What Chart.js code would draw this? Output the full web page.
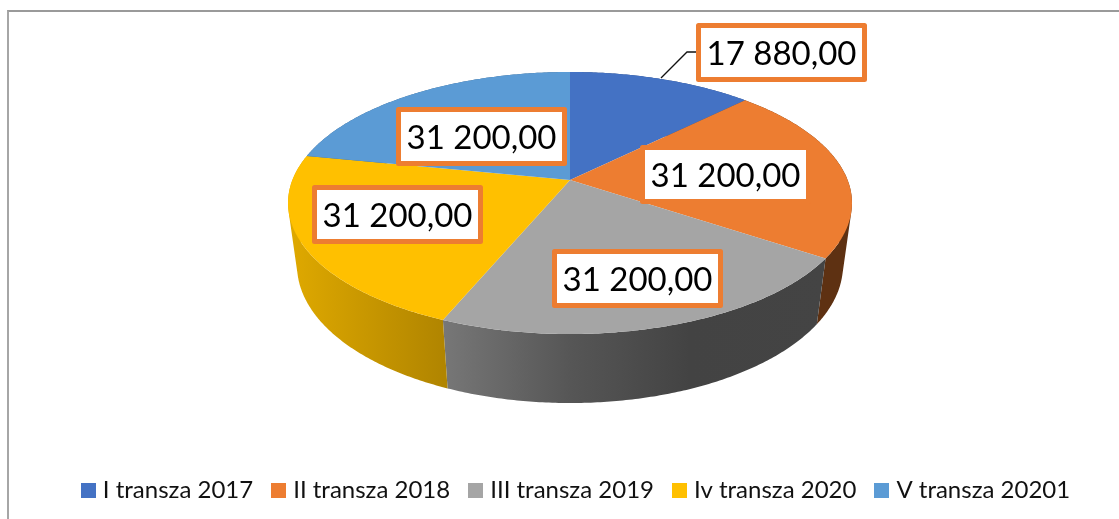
<!DOCTYPE html>
<html>
<head>
<meta charset="utf-8">
<title>Transze</title>
<style>
html,body{margin:0;padding:0;background:#fff;overflow:hidden}
#wrap{position:relative;width:1119px;height:519px}
#frame{position:absolute;left:7px;top:10px;right:0;bottom:0;border-top:2px solid #9a9a9a;border-left:2px solid #a6a6a6}
canvas{position:absolute;left:0;top:0}
</style>
</head>
<body>
<div id="wrap"><div id="frame"></div><canvas id="pie" width="1119" height="519"></canvas></div>
<script src="https://cdn.jsdelivr.net/npm/chart.js"></script>
<script>
/* ================= DATA ================= */
const categories=['I transza 2017','II transza 2018','III transza 2019','Iv transza 2020','V transza 20201'];
const values=[17880,31200,31200,31200,31200];
const valueLabels=['17 880,00','31 200,00','31 200,00','31 200,00','31 200,00'];

/* ================= STYLE ================= */
const colors=['#4472C4','#ED7D31','#A5A5A5','#FFC000','#5B9BD5'];
// wall shading: [x, colour] stops of a horizontal gradient
const wallStops=[
  [[570,'#2c4a80'],[743,'#2c4a80']],
  [[740,'#5e3112'],[852,'#5e3112']],
  [[443,'#777777'],[570,'#565656'],[690,'#434343'],[827,'#444444']],
  [[289,'#dfa900'],[443,'#b18500']],
  [[308,'#3b658b'],[570,'#3b658b']]
];
// outer rect of each value box, x y w h
const boxes=[[696,23,171,59],[640,145,171,59],[552,249,171,59],[312,185,171,59],[396,107,171,59]];
const leader=[[661,78],[687,52],[696,52]];

/* ================= 3D PROJECTION ================= */
const P={dx:-8,apexY:180,k:.1756,rx:277.6,ry:127,m:.032,depth:64};
function project(th,ax,low){
  const s=Math.sin(th),c=Math.cos(th),w=1+P.k*c+(low?P.m:0);
  return [ax+P.rx*s/w, P.apexY+(-P.ry*c+(low?P.depth:0))/w];
}
function steps(a,b){
  const n=Math.max(2,Math.ceil(Math.abs(b-a)/.01)),r=[];
  for(let i=0;i<=n;i++) r.push(a+(b-a)*i/n);
  return r;
}
function area(q){
  let s=0;
  q.forEach((p,i)=>{const n=q[(i+1)%q.length];s+=p[0]*n[1]-n[0]*p[1];});
  return s;
}

const pie3d={
  id:'pie3d',
  beforeDatasetsDraw(chart){
    const ctx=chart.ctx, arcs=chart.getDatasetMeta(0).data;
    const ax=arcs[0].x+P.dx;
    const ang=arcs.map(a=>[a.startAngle+Math.PI/2,a.endAngle+Math.PI/2]);

    // walls: one path of same-wound quads so the fill has no seams
    ang.forEach((t,i)=>{
      const st=wallStops[i], x0=st[0][0], x1=st[st.length-1][0];
      const g=ctx.createLinearGradient(x0,0,x1,0);
      st.forEach(s=>g.addColorStop((s[0]-x0)/(x1-x0),s[1]));
      const th=steps(t[0],t[1]);
      ctx.beginPath();
      for(let j=0;j<th.length-1;j++){
        const q=[project(th[j],ax,false),project(th[j+1],ax,false),project(th[j+1],ax,true),project(th[j],ax,true)];
        if(area(q)<0) q.reverse();
        q.forEach((p,n)=>n?ctx.lineTo(p[0],p[1]):ctx.moveTo(p[0],p[1]));
        ctx.closePath();
      }
      ctx.fillStyle=g;
      ctx.fill();
    });
    // top faces
    ang.forEach((t,i)=>{
      ctx.beginPath();
      ctx.moveTo(ax,P.apexY);
      steps(t[0],t[1]).forEach(v=>{const p=project(v,ax,false);ctx.lineTo(p[0],p[1]);});
      ctx.closePath();
      ctx.fillStyle=colors[i];
      ctx.fill();
    });
    // leader line
    ctx.beginPath();
    leader.forEach((p,i)=>i?ctx.lineTo(p[0],p[1]):ctx.moveTo(p[0],p[1]));
    ctx.strokeStyle='#111';ctx.lineWidth=1.3;ctx.stroke();
    // value boxes
    boxes.forEach((b,i)=>{
      ctx.fillStyle='#fff';
      ctx.strokeStyle='#ED7D31';ctx.lineWidth=5;ctx.lineJoin='round';
      ctx.beginPath();ctx.rect(b[0]+2.5,b[1]+2.5,b[2]-5,b[3]-5);ctx.fill();ctx.stroke();
      ctx.fillStyle='#000';
      ctx.font='33px Lato';ctx.textAlign='center';ctx.textBaseline='middle';
      ctx.fillText(valueLabels[i],b[0]+b[2]/2,b[1]+b[3]/2+2);
    });
    return false;
  }
};

/* ================= LEGEND SWATCHES ================= */
function swatch(col){
  const c=document.createElement('canvas');
  c.width=15;c.height=15;
  const x=c.getContext('2d');x.fillStyle=col;x.fillRect(0,0,15,15);
  return c;
}

/* ================= CHART ================= */
new Chart(document.getElementById('pie'),{
  type:'pie',
  plugins:[pie3d],
  data:{labels:categories,datasets:[{data:values,backgroundColor:colors,borderWidth:0}]},
  options:{
    responsive:false,
    animation:false,
    layout:{padding:{left:37,right:0,top:0,bottom:7}},
    plugins:{
      tooltip:{enabled:false},
      legend:{
        position:'bottom',
        labels:{
          font:{family:'Lato',size:24},
          color:'#111',
          usePointStyle:true,
          pointStyleWidth:5,
          boxHeight:15,
          padding:23,
          generateLabels:chart=>Chart.overrides.pie.plugins.legend.labels.generateLabels(chart)
            .map((l,i)=>Object.assign(l,{pointStyle:swatch(colors[i])}))
        }
      }
    }
  }
});
</script>
</body>
</html>
